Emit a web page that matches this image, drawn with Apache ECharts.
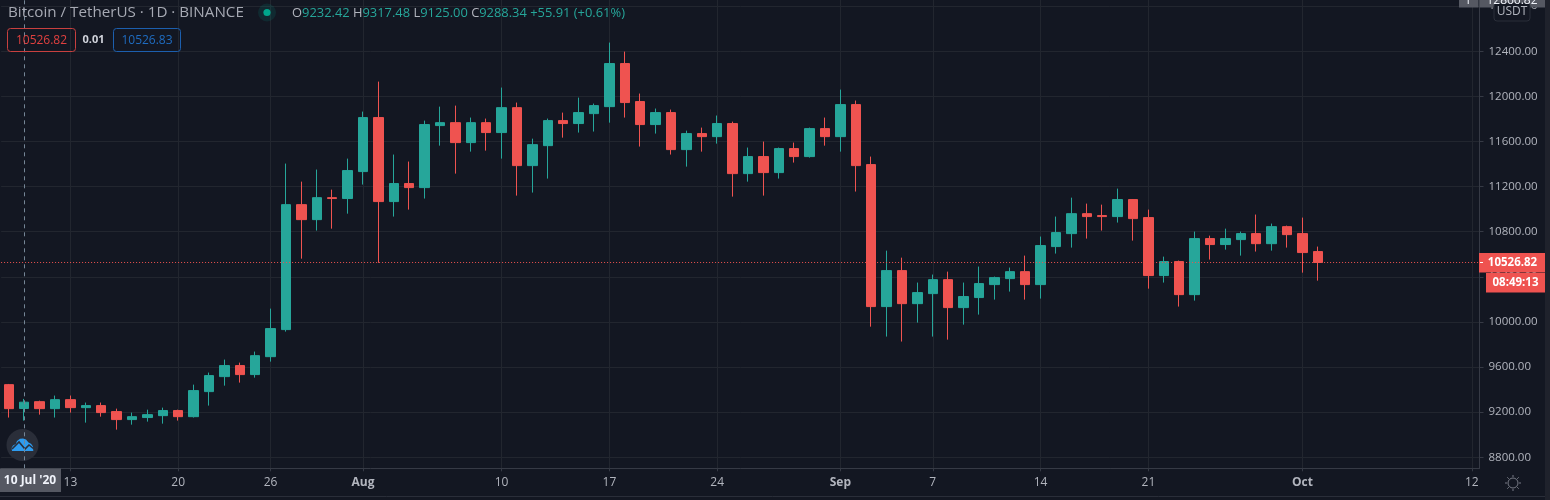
<!DOCTYPE html>
<html>
<head>
<meta charset="utf-8">
<style>html,body{margin:0;padding:0;background:#131722}#c{width:1550px;height:500px}</style>
<script src="https://cdn.jsdelivr.net/npm/echarts@6/dist/echarts.min.js"></script>
</head>
<body>
<div id="c"></div>
<script>
const categories = [
 '9 Jul','10 Jul','11 Jul','12 Jul','13 Jul','14 Jul','15 Jul','16 Jul','17 Jul','18 Jul','19 Jul','20 Jul','21 Jul','22 Jul','23 Jul','24 Jul','25 Jul','26 Jul','27 Jul','28 Jul','29 Jul','30 Jul','31 Jul',
 '1 Aug','2 Aug','3 Aug','4 Aug','5 Aug','6 Aug','7 Aug','8 Aug','9 Aug','10 Aug','11 Aug','12 Aug','13 Aug','14 Aug','15 Aug','16 Aug','17 Aug','18 Aug','19 Aug','20 Aug','21 Aug','22 Aug','23 Aug','24 Aug','25 Aug','26 Aug','27 Aug','28 Aug','29 Aug','30 Aug','31 Aug',
 '1 Sep','2 Sep','3 Sep','4 Sep','5 Sep','6 Sep','7 Sep','8 Sep','9 Sep','10 Sep','11 Sep','12 Sep','13 Sep','14 Sep','15 Sep','16 Sep','17 Sep','18 Sep','19 Sep','20 Sep','21 Sep','22 Sep','23 Sep','24 Sep','25 Sep','26 Sep','27 Sep','28 Sep','29 Sep','30 Sep',
 '1 Oct','2 Oct','3 Oct','4 Oct','5 Oct','6 Oct','7 Oct','8 Oct','9 Oct','10 Oct','11 Oct','12 Oct'];
// [open, close, low, high]
const candles = [
 [9444,9231,9152,9450],[9232.42,9288.34,9125,9317.48],[9293,9231,9178,9302],[9231,9311,9152,9347],[9311,9240,9196,9347],[9240,9258,9107,9285],[9258,9196,9160,9285],[9205,9134,9045,9231],[9134,9160,9089,9196],[9152,9178,9116,9222],
 [9169,9214,9098,9240],[9214,9160,9125,9222],[9160,9391,9152,9444],[9382,9524,9258,9551],[9515,9613,9435,9666],[9613,9533,9462,9639],[9533,9701,9506,9737],[9692,9941,9648,10118],[9932,11040,9914,11404],[11040,10907,10561,11244],
 [10907,11102,10810,11351],[11102,11094,10827,11173],[11094,11342,10960,11448],[11333,11812,11218,11865],[11812,11067,10524,12131],[11067,11227,10934,11484],[11227,11191,10996,11422],[11191,11750,11094,11785],[11741,11767,11563,11909],[11767,11590,11315,11918],
 [11590,11767,11510,11812],[11767,11679,11519,11803],[11679,11900,11448,12078],[11900,11386,11120,11945],[11386,11572,11147,11625],[11563,11785,11271,11803],[11785,11759,11634,11856],[11759,11856,11679,11989],[11847,11918,11688,11936],[11909,12291,11767,12477],
 [12291,11945,11812,12397],[11954,11750,11555,12025],[11750,11856,11670,11892],[11856,11528,11484,11883],[11528,11670,11377,11696],[11670,11643,11510,11723],[11643,11759,11581,11830],[11759,11315,11111,11776],[11315,11466,11244,11546],[11466,11324,11120,11599],
 [11324,11537,11271,11546],[11537,11466,11413,11590],[11466,11714,11457,11723],[11714,11643,11563,11812],[11643,11927,11510,12060],[11927,11386,11156,11963],[11395,10136,9958,11466],[10136,10455,9870,10632],[10455,10162,9826,10570],[10162,10260,9994,10349],
 [10251,10375,9870,10420],[10375,10127,9843,10446],[10127,10225,9976,10349],[10216,10340,10065,10491],[10331,10393,10198,10402],[10384,10446,10269,10482],[10446,10331,10198,10588],[10331,10677,10207,10757],[10668,10792,10606,10934],[10783,10960,10659,11102],
 [10960,10934,10739,11049],[10943,10934,10810,11040],[10934,11085,10881,11182],[11085,10916,10721,11090],[10925,10411,10295,10996],[10411,10535,10349,10579],[10535,10242,10136,10544],[10242,10739,10189,10801],[10739,10686,10553,10765],[10686,10739,10641,10827],
 [10730,10783,10588,10801],[10783,10694,10624,10952],[10694,10845,10632,10872],[10845,10774,10659,10854],[10783,10615,10437,10925],[10624,10526.82,10366,10668]];
const dateTicks = {'13 Jul':'13','20 Jul':'20','26 Jul':'26','1 Aug':'Aug','10 Aug':'10','17 Aug':'17','24 Aug':'24','1 Sep':'Sep','7 Sep':'7','14 Sep':'14','21 Sep':'21','1 Oct':'Oct','12 Oct':'12'};
const priceTicks = [8800,9200,9600,10000,10400,10800,11200,11600,12000,12400,12800];
const lastPrice = 10526.82;
const hoverDate = '10 Jul';
const priceMin = 8702.1, priceMax = 12854.5;

const UP='#26a69a', DOWN='#ef5350', TXT='#b2b5be', BG='#131722', GRID='#22262f', AXIS='#363a45';
const FONT='"Open Sans","Noto Sans",sans-serif';
const isTick = (i,v)=> v in dateTicks;
const data = categories.map((c,i)=> candles[i] || '-');

const chart = echarts.init(document.getElementById('c'), null, {renderer:'canvas', width:1550, height:500});
chart.setOption({
  animation:false,
  backgroundColor:BG,
  grid:{left:1.1, width:1478.4, top:0, height:468.3, containLabel:false},
  xAxis:{type:'category', data:categories, boundaryGap:true,
    axisLine:{show:true, lineStyle:{color:AXIS,width:1}},
    axisTick:{show:true, alignWithLabel:true, interval:isTick, length:3, lineStyle:{color:AXIS}},
    splitLine:{show:true, alignWithLabel:true, interval:isTick, lineStyle:{color:GRID,width:1}},
    axisLabel:{interval:isTick, margin:8, color:TXT, fontFamily:FONT, fontSize:12, hideOverlap:false,
      formatter:v=>{const t=dateTicks[v]||''; return /[A-Z]/.test(t)?'{b|'+t+'}':t;},
      rich:{b:{color:TXT,fontFamily:FONT,fontSize:12,fontWeight:'bold'}}}
  },
  yAxis:{type:'value', position:'right', min:priceMin, max:priceMax, scale:true,
    axisLine:{show:true, lineStyle:{color:AXIS,width:1}},
    axisTick:{show:true, customValues:priceTicks, length:4, lineStyle:{color:AXIS}},
    splitLine:{show:true, lineStyle:{color:GRID,width:1}},
    axisLabel:{customValues:priceTicks, margin:9, color:TXT, fontFamily:FONT, fontSize:11.5, align:'left',
      showMinLabel:true, showMaxLabel:true, formatter:v=>v.toFixed(2)}
  },
  series:[{type:'candlestick', data:data, barWidth:10,
    itemStyle:{color:UP,color0:DOWN,borderColor:UP,borderColor0:DOWN,borderWidth:1},
    markLine:{silent:true, symbol:'none', animation:false, label:{show:false},
      data:[
        {yAxis:lastPrice, lineStyle:{color:DOWN,type:[1,2],width:1,opacity:1}},
        {xAxis:hoverDate, lineStyle:{color:'#758696',type:[4,4],width:1}}
      ]}
  }]
});

const py = chart.convertToPixel({yAxisIndex:0}, lastPrice);
const tx = (x,y,text,o={})=>({type:'text',x,y,z:o.z||50,style:Object.assign({text,fill:TXT,font:(o.w||'normal')+' '+(o.s||12)+'px '+FONT,textAlign:o.a||'center',textVerticalAlign:'middle'},o.st||{})});
const rc = (x,y,w,h,fill,stroke,r)=>({type:'rect',z:40,shape:{x,y,width:w,height:h,r:r||0},style:{fill:fill||'transparent',stroke:stroke||null,lineWidth:1}});
const rays=[];
for(const [a,b,c,d] of [[1513,475,1513,477],[1513,489,1513,491],[1505,483,1507,483],[1519,483,1521,483],[1507.3,477.3,1508.8,478.8],[1517.2,487.2,1518.7,488.7],[1518.7,477.3,1517.2,478.8],[1508.8,487.2,1507.3,488.7]])
  rays.push({type:'line',z:40,shape:{x1:a,y1:b,x2:c,y2:d},style:{stroke:'#787b86',lineWidth:1}});

chart.setOption({graphic:{elements:[
  // header
  tx(8,12.5,'Bitcoin / TetherUS · 1D · BINANCE',{a:'left',s:15.2,st:{fill:'#a6a9b3'}}),
  {type:'circle',z:40,shape:{cx:267,cy:12.5,r:9},style:{fill:'rgba(0,166,140,.14)'}},
  {type:'circle',z:41,shape:{cx:267,cy:12.5,r:3.6},style:{fill:'#00a68c'}},
  {type:'text',x:292,y:13.5,z:50,style:{
    text:'{l|O}{v|9232.42} {l|H}{v|9317.48} {l|L}{v|9125.00} {l|C}{v|9288.34} {v|+55.91 (+0.61%)}',
    textVerticalAlign:'middle',font:'12.9px '+FONT,
    rich:{l:{fill:TXT,font:'12.9px '+FONT},v:{fill:UP,font:'12.9px '+FONT}}}},
  rc(7.5,28.5,68,23,null,'#c8403f',3),
  tx(41.5,40.5,'10526.82',{st:{fill:'#e0403f'}}),
  tx(93.5,40,'0.01',{s:11,w:'bold',st:{fill:'#d1d4dc'}}),
  rc(113.5,28.5,67,23,null,'#1c5fae',3),
  tx(147,40.5,'10526.83',{st:{fill:'#1f6cc0'}}),
  // crosshair date tag
  rc(0,468.5,61,23.5,'#555862'),
  tx(30,481,"10 Jul '20",{w:'bold',st:{fill:'#f0f3fa'}}),
  // logo (under the series)
  {type:'circle',z:1,shape:{cx:22.5,cy:445,r:16},style:{fill:'#2a2e39'}},
  {type:'polygon',z:1,shape:{points:[[12,451],[11.6,448],[13,445.5],[15.8,444],[17,441],[20,438.8],[23,438.5],[26,439.5],[28.5,442.5],[31,443.8],[33,446.5],[33.3,451]]},style:{fill:'#2e9cf0'}},
  {type:'polyline',z:1,shape:{points:[[12,449],[19,442],[25,449],[29,445],[34,449]]},style:{stroke:'#2a2e39',fill:null,lineWidth:1.6}},
  // right edge and bottom rules
  rc(1545,0,5,500,'#1f222c'),
  {type:'line',z:40,shape:{x1:0,y1:496.5,x2:1545,y2:496.5},style:{stroke:'#2a2e39',lineWidth:1}},
  // top clipped crosshair price tag
  rc(1459,0,19.5,7.5,'#555862'),
  rc(1479.5,0,65.5,7.5,'#555862'),
  tx(1468,1,'1',{st:{fill:'#f0f3fa'}}),
  tx(1512,1,'12866.82',{st:{fill:'#f0f3fa'}}),
  // currency box
  {type:'rect',z:45,shape:{x:1494,y:3,width:36,height:18,r:3},style:{fill:BG,stroke:'#2a2e39',lineWidth:1}},
  tx(1512,12,'USDT',{s:12}),
  // last price + countdown tags
  rc(1479,py-9.5,66,19.5,DOWN),
  {type:'line',z:46,shape:{x1:1480,y1:py,x2:1483,y2:py},style:{stroke:'#fff',lineWidth:1}},
  tx(1512.5,py+0.5,'10526.82',{w:'bold',s:11.5,st:{fill:'#fff'}}),
  rc(1486,py+10.5,59,19.5,DOWN),
  tx(1515.5,py+20.5,'08:49:13',{w:'bold',s:11.5,st:{fill:'#fff'}}),
  // settings icon
  {type:'circle',z:40,shape:{cx:1513,cy:483,r:5},style:{fill:'transparent',stroke:'#787b86',lineWidth:1}},
  ...rays
]}});
</script>
</body>
</html>
